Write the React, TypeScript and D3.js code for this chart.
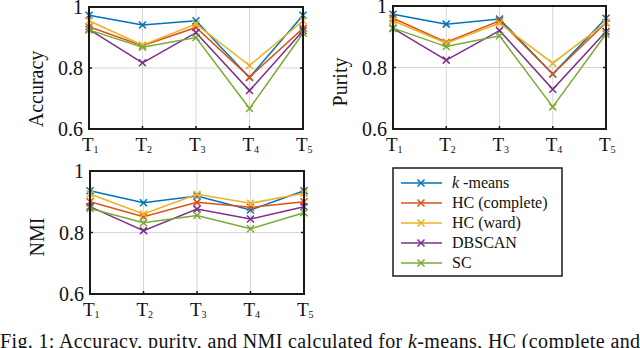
import React from "react";
import { scaleLinear, scalePoint, line } from "d3";

const categories = ["1", "2", "3", "4", "5"];
const methods = ["k-means", "HC (complete)", "HC (ward)", "DBSCAN", "SC"];
const colors = ["#0072BD", "#D95319", "#EDB120", "#7E2F8E", "#77AC30"];
const yTicks = [0.6, 0.8, 1];

// accuracy per method, T1..T5
const accKmeans = [0.973, 0.941, 0.955, 0.769, 0.973];
const accComplete = [0.935, 0.873, 0.933, 0.77, 0.93];
const accWard = [0.955, 0.875, 0.944, 0.808, 0.955];
const accDbscan = [0.927, 0.817, 0.916, 0.726, 0.922];
const accSc = [0.925, 0.868, 0.9, 0.667, 0.914];

const purKmeans = [0.973, 0.941, 0.958, 0.779, 0.96];
const purComplete = [0.96, 0.882, 0.952, 0.779, 0.946];
const purWard = [0.952, 0.879, 0.944, 0.814, 0.946];
const purDbscan = [0.927, 0.824, 0.92, 0.729, 0.917];
const purSc = [0.928, 0.868, 0.903, 0.672, 0.909];

const nmiKmeans = [0.936, 0.897, 0.919, 0.873, 0.936];
const nmiComplete = [0.9, 0.851, 0.898, 0.882, 0.9];
const nmiWard = [0.925, 0.86, 0.924, 0.895, 0.928];
const nmiDbscan = [0.884, 0.806, 0.876, 0.844, 0.884];
const nmiSc = [0.878, 0.832, 0.855, 0.812, 0.864];

const font = "Liberation Serif";

const Cross = ({ x, y, color, s = 3.5 }) => (
  <path
    d={`M${x - s},${y - s}L${x + s},${y + s}M${x - s},${y + s}L${x + s},${y - s}`}
    stroke={color}
    strokeWidth={1.5}
    fill="none"
  />
);

const Panel = ({ box, label, labelY, series }) => {
  const { left, right, top, bottom } = box;
  const x = scalePoint().domain(categories).range([left, right]);
  const y = scaleLinear().domain([0.6, 1]).range([bottom, top]);
  const myLine = line()
    .x((d, i) => x(categories[i]))
    .y(d => y(d));

  return (
    <g>
      {/* grid */}
      {categories.map(c => (
        <line key={c} x1={x(c)} x2={x(c)} y1={top} y2={bottom} stroke="#d6d6d6" strokeWidth={1} />
      ))}
      {yTicks.map(t => (
        <line key={t} x1={left} x2={right} y1={y(t)} y2={y(t)} stroke="#d6d6d6" strokeWidth={1} />
      ))}

      {/* lines */}
      {series.map((s, k) => (
        <g key={k}>
          <path d={myLine(s)} fill="none" stroke={colors[k]} strokeWidth={1.5} />
          {s.map((v, i) => (
            <Cross key={i} x={x(categories[i])} y={y(v)} color={colors[k]} />
          ))}
        </g>
      ))}

      {/* box and ticks */}
      <rect x={left} y={top} width={right - left} height={bottom - top} fill="none" stroke="#1a1a1a" strokeWidth={2} />
      {yTicks.map(t => (
        <g key={t}>
          <line x1={left} x2={left + 3} y1={y(t)} y2={y(t)} stroke="#1a1a1a" strokeWidth={1.5} />
          <line x1={right - 3} x2={right} y1={y(t)} y2={y(t)} stroke="#1a1a1a" strokeWidth={1.5} />
        </g>
      ))}
      {categories.map(c => (
        <line key={c} x1={x(c)} x2={x(c)} y1={bottom} y2={bottom - 3} stroke="#1a1a1a" strokeWidth={1.5} />
      ))}

      {/* tick labels */}
      {yTicks.map(t => (
        <text key={t} x={left - 6} y={y(t) + 7} textAnchor="end" fontFamily={font} fontSize={20} fill="#111">
          {t === 1 ? "1" : t.toFixed(1)}
        </text>
      ))}
      {categories.map(c => (
        <text key={c} x={x(c) - 7} y={bottom + 22} fontFamily={font} fontSize={19} fill="#111">
          T<tspan fontSize={10} dy={2}>{c}</tspan>
        </text>
      ))}
      <text
        transform={`translate(${left - 46},${labelY}) rotate(-90)`}
        textAnchor="middle"
        fontFamily={font}
        fontSize={20}
        fill="#111"
      >
        {label}
      </text>
    </g>
  );
};

const App = () => {
  const legendX = 393;
  const legendY = 168;
  return (
    <div>
      <style>{`body{margin:0}`}</style>
      <svg width={640} height={348} style={{ display: "block", background: "#fff" }}>
        <Panel
          box={{ left: 89, right: 303, top: 7, bottom: 129 }}
          label="Accuracy"
          labelY={89}
          series={[accKmeans, accComplete, accWard, accDbscan, accSc]}
        />
        <Panel
          box={{ left: 393, right: 606, top: 6, bottom: 129 }}
          label="Purity"
          labelY={82}
          series={[purKmeans, purComplete, purWard, purDbscan, purSc]}
        />
        <Panel
          box={{ left: 90, right: 304, top: 171, bottom: 294 }}
          label="NMI"
          labelY={237}
          series={[nmiKmeans, nmiComplete, nmiWard, nmiDbscan, nmiSc]}
        />

        {/* legend */}
        <rect x={legendX} y={legendY} width={169} height={108} fill="#fff" stroke="#1a1a1a" strokeWidth={1.5} />
        {methods.map((m, i) => {
          const yy = legendY + 15 + i * 20;
          return (
            <g key={m}>
              <line x1={legendX + 8} x2={legendX + 49} y1={yy} y2={yy} stroke={colors[i]} strokeWidth={1.5} />
              <Cross x={legendX + 28} y={yy} color={colors[i]} />
              <text x={legendX + 59} y={yy + 5} fontFamily={font} fontSize={16} fill="#111">
                {i === 0 ? (
                  <>
                    <tspan fontStyle="italic">k</tspan> -means
                  </>
                ) : (
                  m
                )}
              </text>
            </g>
          );
        })}

        {/* caption, cut by the page edge */}
        <text x={0} y={348} fontFamily={font} fontSize={20} fill="#111" textLength={640} lengthAdjust="spacing">
          Fig. 1:  Accuracy, purity, and NMI calculated for <tspan fontStyle="italic">k</tspan>-means, HC (complete and
        </text>
      </svg>
    </div>
  );
};

export default App;
